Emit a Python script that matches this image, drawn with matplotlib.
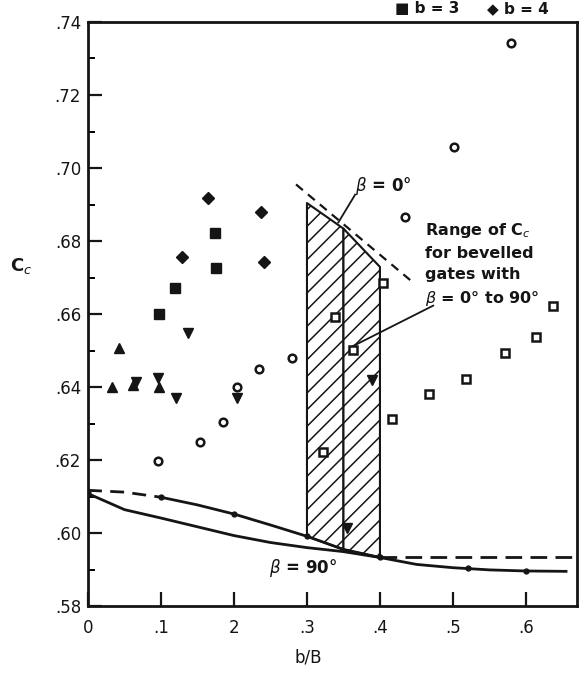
import matplotlib.pyplot as plt

plt.rcParams['font.family'] = ['DejaVu Sans']
plt.rcParams['hatch.linewidth'] = 1.1

OUT = "out.png"
INK = "#151515"

# --- data ---
# upper curve (dashed near b/B = 0)
upper_dash_x = [0.0, 0.05, 0.1]
upper_dash_y = [0.6117, 0.6112, 0.6098]
upper_x = [0.1, 0.15, 0.2, 0.25, 0.3, 0.35, 0.4]
upper_y = [0.6098, 0.6077, 0.6052, 0.6022, 0.5991, 0.5955, 0.5933]
# lower curve, from b/B = 0 up to the merge at 0.4
lower_x = [0.0, 0.05, 0.1, 0.15, 0.2, 0.25, 0.3, 0.35, 0.4]
lower_y = [0.6108, 0.6064, 0.6041, 0.6017, 0.5993, 0.5974, 0.5960, 0.5949, 0.5933]
# common tail after the merge
tail_x = [0.4, 0.45, 0.5, 0.55, 0.6, 0.655]
tail_y = [0.5933, 0.5914, 0.5905, 0.5899, 0.5896, 0.5895]
# dashed horizontal continuation
flat_x = [0.4, 0.67]
flat_y = [0.5933, 0.5933]
# small dots sitting on the curves
curve_dot_x = [0.0, 0.1, 0.2, 0.3, 0.4, 0.52, 0.6]
curve_dot_y = [0.611, 0.6098, 0.6052, 0.5991, 0.5933, 0.5903, 0.5895]

# hatched range bands
band1_x = [0.3, 0.35]
band1_lo = [0.5991, 0.5955]
band1_hi = [0.6904, 0.6834]
band2_x = [0.35, 0.4]
band2_lo = [0.5955, 0.5933]
band2_hi = [0.6834, 0.6729]
# beta = 0 dashed envelope
env_x = [0.285, 0.445]
env_y = [0.6955, 0.6687]

# markers
tri_up_x = [0.0325, 0.043, 0.061, 0.097]
tri_up_y = [0.6400, 0.6506, 0.6405, 0.6400]
tri_dn_x = [0.066, 0.096, 0.1375, 0.120, 0.2038, 0.389, 0.355]
tri_dn_y = [0.6415, 0.6425, 0.6547, 0.6369, 0.6369, 0.6418, 0.6015]
sq_fill_x = [0.097, 0.119, 0.1746, 0.176]
sq_fill_y = [0.6601, 0.6672, 0.6822, 0.6725]
dia_x = [0.1288, 0.165, 0.2375, 0.2408]
dia_y = [0.6757, 0.6918, 0.6879, 0.6742]
circ_x = [0.0958, 0.154, 0.1843, 0.2046, 0.2338, 0.280, 0.434, 0.501, 0.580]
circ_y = [0.6198, 0.6250, 0.6305, 0.6400, 0.6448, 0.6480, 0.6866, 0.7058, 0.7342]
sq_open_x = [0.322, 0.338, 0.3635, 0.404, 0.4167, 0.4676, 0.5176, 0.572, 0.6135, 0.637]
sq_open_y = [0.6222, 0.6593, 0.6501, 0.6686, 0.6311, 0.6382, 0.6422, 0.6492, 0.6538, 0.6622]

x_ticks = [0, 0.1, 0.2, 0.3, 0.4, 0.5, 0.6]
x_labels = ["0", ".1", "2", ".3", ".4", ".5", ".6"]
y_ticks = [0.58, 0.60, 0.62, 0.64, 0.66, 0.68, 0.70, 0.72, 0.74]
y_labels = [".58", ".60", ".62", ".64", ".66", ".68", ".70", ".72", ".74"]
y_minor = [0.59, 0.61, 0.63, 0.65, 0.67, 0.69, 0.71, 0.73]

fig = plt.figure(figsize=(5.88, 6.81), dpi=100)
ax = fig.add_axes([0.1497, 0.1101, 0.8316, 0.8576])

# hatched bands
for bx, lo, hi in [(band1_x, band1_lo, band1_hi), (band2_x, band2_lo, band2_hi)]:
    ax.fill_between(bx, lo, hi, facecolor="white", edgecolor=INK,
                    hatch="//", linewidth=1.5, zorder=2)

ax.plot(env_x, env_y, color=INK, lw=1.6, ls=(0, (4, 3)), zorder=3)

# curves
ax.plot(upper_dash_x, upper_dash_y, color=INK, lw=2, ls=(0, (5, 3)), zorder=3)
ax.plot(upper_x, upper_y, color=INK, lw=2, zorder=3)
ax.plot(lower_x, lower_y, color=INK, lw=2, zorder=3)
ax.plot(tail_x, tail_y, color=INK, lw=2, zorder=3)
ax.plot(flat_x, flat_y, color=INK, lw=2, ls=(0, (6, 3)), zorder=3)
ax.plot(curve_dot_x, curve_dot_y, "o", color=INK, ms=3.5, zorder=4)

# data points
ax.plot(tri_up_x, tri_up_y, "^", color=INK, ms=6.5, zorder=4)
ax.plot(tri_dn_x, tri_dn_y, "v", color=INK, ms=6.5, zorder=4)
ax.plot(sq_fill_x, sq_fill_y, "s", color=INK, ms=6.5, zorder=4)
ax.plot(dia_x, dia_y, "D", color=INK, ms=6.5, zorder=4)
ax.plot(circ_x, circ_y, "o", mfc="white", mec=INK, mew=1.8, ms=5.5, zorder=4)
ax.plot(sq_open_x, sq_open_y, "s", mfc="white", mec=INK, mew=1.8, ms=5.5, zorder=4)

# annotations
ax.text(0.366, 0.6952, r"$\beta$ = 0°", fontsize=12, fontweight="bold",
        ha="left", va="center", color=INK)
ax.plot([0.366, 0.343], [0.6927, 0.6851], color=INK, lw=1.3, zorder=3)
ax.text(0.462, 0.6736,
        "Range of C$_c$\nfor bevelled\ngates with\n$\\beta$ = 0° to 90°",
        fontsize=11.5, fontweight="bold", ha="left", va="center",
        linespacing=1.5, color=INK)
ax.plot([0.473, 0.361], [0.6623, 0.6510], color=INK, lw=1.3, zorder=3)
ax.text(0.295, 0.5903, r"$\beta$ = 90°", fontsize=12, fontweight="bold",
        ha="center", va="center", color=INK)

# partial legend at the top edge of the scan
fig.text(0.672, 0.999, "■ b = 3", fontsize=11, fontweight="bold",
         ha="left", va="top", color=INK)
fig.text(0.828, 0.999, "◆ b = 4", fontsize=11, fontweight="bold",
         ha="left", va="top", color=INK)

ax.set_xlim(0, 0.67)
ax.set_ylim(0.58, 0.74)
ax.set_xticks(x_ticks)
ax.set_xticklabels(x_labels)
ax.set_yticks(y_ticks)
ax.set_yticklabels(y_labels)
ax.set_yticks(y_minor, minor=True)
ax.tick_params(axis="both", which="major", direction="in", length=10,
               width=1.6, labelsize=12, colors=INK)
ax.tick_params(axis="x", pad=9)
ax.tick_params(axis="y", pad=5)
ax.tick_params(axis="y", which="minor", direction="in", length=5, width=1.4)
for sp in ax.spines.values():
    sp.set_linewidth(2)
    sp.set_color(INK)

ax.set_xlabel("b/B", fontsize=12, color=INK)
ax.xaxis.set_label_coords(0.45, -0.072)
ax.set_ylabel("C$_c$", fontsize=13, fontweight="bold", rotation=0, color=INK)
ax.yaxis.set_label_coords(-0.137, 0.565)

fig.savefig(OUT, dpi=100)
